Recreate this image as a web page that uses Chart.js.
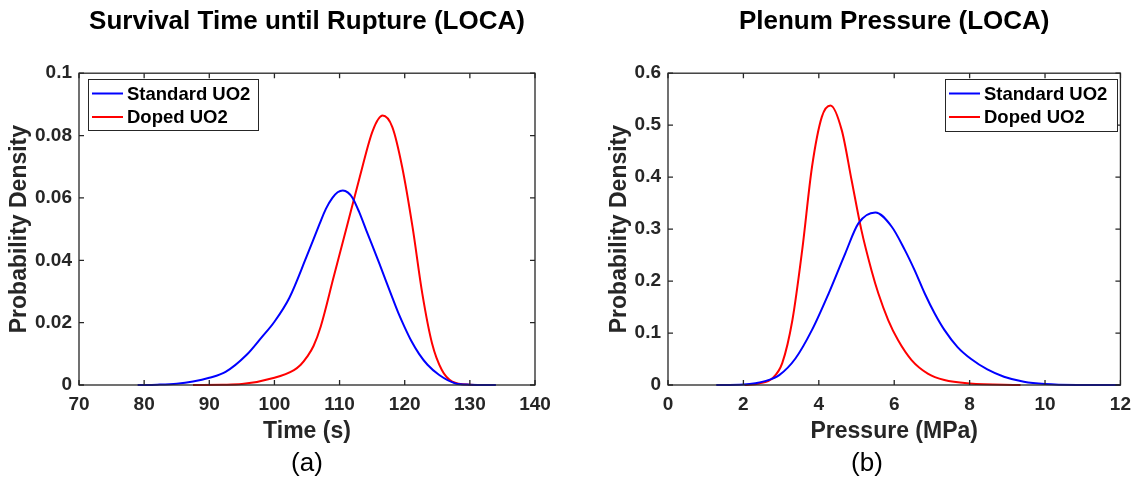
<!DOCTYPE html>
<html>
<head>
<meta charset="utf-8">
<script src="https://cdn.jsdelivr.net/npm/chart.js@4.4.0/dist/chart.umd.min.js"></script>
<style>
body{margin:0;background:#fff;width:1139px;height:482px;overflow:hidden;position:relative;font-family:"Liberation Sans",Arial,sans-serif}
canvas{position:absolute;top:0}
.cap{position:absolute;top:447px;font-size:26px;color:#000;transform:translateX(-50%)}
</style>
</head>
<body>
<canvas id="timeChart" width="570" height="482" style="left:0"></canvas>
<canvas id="pressureChart" width="569" height="482" style="left:570px"></canvas>
<div class="cap" style="left:307px">(a)</div>
<div class="cap" style="left:867px">(b)</div>
<script>
const seriesNames = ['Standard UO2', 'Doped UO2']

// (a) survival time until rupture, s
const timeStdX = [79, 82, 85, 87.5, 90, 92.5, 95.7, 98, 100, 102.3, 104.9, 106.9, 107.9, 108.9, 109.7, 110.5, 111.3, 112.0, 113.0, 114.1, 116.1, 118.1, 119, 120, 121, 122.2, 123.5, 125.3, 127.8, 130, 134]
const timeStdY = [0, 0.0001, 0.0004, 0.0011, 0.0023, 0.0042, 0.0096, 0.0152, 0.0203, 0.028, 0.041, 0.0515, 0.0565, 0.060, 0.0618, 0.0624, 0.0617, 0.060, 0.0555, 0.0496, 0.039, 0.028, 0.0232, 0.0185, 0.0142, 0.010, 0.0065, 0.0032, 0.0005, 0.0001, 0]
const timeDopX = [87.5, 92, 95, 100, 103, 104, 105, 106, 107.1, 109.1, 111.1, 113.1, 115.1, 116.6, 118.1, 119.6, 121.2, 122.7, 124.2, 125.7, 127.3, 130, 132.5]
const timeDopY = [0, 0.0001, 0.0003, 0.0023, 0.0048, 0.0064, 0.009, 0.0125, 0.0187, 0.0347, 0.0507, 0.0667, 0.0816, 0.0864, 0.0827, 0.070, 0.0507, 0.0293, 0.0133, 0.0048, 0.0011, 0.0001, 0]
const timeTicksX = [70, 80, 90, 100, 110, 120, 130, 140]
const timeTicksY = [0, 0.02, 0.04, 0.06, 0.08, 0.1]
const timeTickLabelsY = ['0', '0.02', '0.04', '0.06', '0.08', '0.1']

// (b) plenum pressure, MPa
const presStdX = [1.28, 2.0, 2.6, 2.95, 3.38, 3.82, 4.26, 4.70, 5.05, 5.5, 5.93, 6.28, 6.54, 6.81, 7.07, 7.33, 7.68, 8.04, 8.47, 8.91, 9.44, 10, 10.84, 12]
const presStdY = [0, 0.001, 0.008, 0.019, 0.051, 0.106, 0.176, 0.253, 0.311, 0.332, 0.305, 0.26, 0.221, 0.176, 0.138, 0.106, 0.073, 0.05, 0.030, 0.016, 0.0064, 0.002, 0.0002, 0]
const presDopX = [2.03, 2.42, 2.77, 3.03, 3.30, 3.56, 3.82, 4.08, 4.31, 4.61, 4.87, 5.13, 5.40, 5.58, 5.84, 6.10, 6.46, 6.89, 7.33, 8.0, 9.35]
const presDopY = [0, 0.003, 0.013, 0.042, 0.125, 0.26, 0.42, 0.516, 0.538, 0.49, 0.394, 0.298, 0.22, 0.176, 0.125, 0.0865, 0.048, 0.022, 0.0096, 0.003, 0]
const presTicksX = [0, 2, 4, 6, 8, 10, 12]
const presTicksY = [0, 0.1, 0.2, 0.3, 0.4, 0.5, 0.6]
const presTickLabelsY = ['0', '0.1', '0.2', '0.3', '0.4', '0.5', '0.6']

const FONT = '"Liberation Sans", Arial, Helvetica, sans-serif'
const AXIS = '#262626'

function toPoints(xs, ys){
    return xs.map((x, i) => ({x, y: ys[i]}))
}

// matlab style box with inward ticks on all four sides
const boxAxes = {
    id: 'boxAxes',
    afterDatasetsDraw(chart){
        const ctx = chart.ctx
        const {left, right, top, bottom} = chart.chartArea
        const xs = chart.scales.x, ys = chart.scales.y
        ctx.save()
        ctx.strokeStyle = AXIS
        ctx.lineWidth = 1.3
        ctx.strokeRect(left, top, right - left, bottom - top)
        ctx.beginPath()
        xs.ticks.forEach(t => {
            const px = xs.getPixelForValue(t.value)
            ctx.moveTo(px, bottom); ctx.lineTo(px, bottom - 5)
            ctx.moveTo(px, top); ctx.lineTo(px, top + 5)
        })
        ys.ticks.forEach(t => {
            const py = ys.getPixelForValue(t.value)
            ctx.moveTo(left, py); ctx.lineTo(left + 5, py)
            ctx.moveTo(right, py); ctx.lineTo(right - 5, py)
        })
        ctx.stroke()
        ctx.restore()
    }
}

const boxLegend = {
    id: 'boxLegend',
    afterDraw(chart, args, opts){
        const ctx = chart.ctx
        const {x, y, w, h} = opts
        ctx.save()
        ctx.fillStyle = '#fff'
        ctx.fillRect(x, y, w, h)
        ctx.strokeStyle = AXIS
        ctx.lineWidth = 1
        ctx.strokeRect(x + 0.5, y + 0.5, w, h)
        ctx.font = `bold 18.5px ${FONT}`
        ctx.textBaseline = 'middle'
        chart.data.datasets.forEach((ds, i) => {
            const ly = y + 14.5 + i * 23.5
            ctx.strokeStyle = ds.borderColor
            ctx.lineWidth = 2
            ctx.beginPath()
            ctx.moveTo(x + 4, ly); ctx.lineTo(x + 35, ly)
            ctx.stroke()
            ctx.fillStyle = '#000'
            ctx.fillText(ds.label, x + 39, ly + 1)
        })
        ctx.restore()
    }
}

function renderDensityChart(id, cfg){
    const ctx = document.getElementById(id).getContext('2d')
    const lineStyle = {borderWidth: 2, pointRadius: 0, showLine: true, cubicInterpolationMode: 'monotone', clip: false}

    return new Chart(ctx, {
        type: 'scatter',
        data: {
            datasets: [
                {label: seriesNames[0], data: toPoints(cfg.stdX, cfg.stdY), borderColor: '#0000ff', ...lineStyle},
                {label: seriesNames[1], data: toPoints(cfg.dopX, cfg.dopY), borderColor: '#ff0000', ...lineStyle}
            ]
        },
        options: {
            responsive: false,
            animation: false,
            devicePixelRatio: 1,
            layout: {padding: {top: 0, left: 0, right: cfg.rightPad, bottom: 32}},
            scales: {
                x: {
                    type: 'linear',
                    min: cfg.ticksX[0],
                    max: cfg.ticksX[cfg.ticksX.length - 1],
                    afterBuildTicks: s => { s.ticks = cfg.ticksX.map(v => ({value: v})) },
                    afterFit: s => { s.height = 65 },
                    grid: {display: false, drawTicks: false},
                    border: {display: false},
                    ticks: {
                        autoSkip: false, maxRotation: 0, padding: 8, color: AXIS,
                        font: {family: FONT, size: 19, weight: 'bold'},
                        callback: v => String(v)
                    },
                    title: {
                        display: true, text: cfg.xLabel, color: AXIS,
                        font: {family: FONT, size: 23, weight: 'bold'},
                        padding: {top: 0, bottom: 5}
                    }
                },
                y: {
                    min: cfg.ticksY[0],
                    max: cfg.ticksY[cfg.ticksY.length - 1],
                    afterBuildTicks: s => { s.ticks = cfg.ticksY.map(v => ({value: v})) },
                    afterFit: s => { s.width = cfg.yWidth },
                    grid: {display: false, drawTicks: false},
                    border: {display: false},
                    ticks: {
                        autoSkip: false, padding: 7, color: AXIS,
                        font: {family: FONT, size: 19, weight: 'bold'},
                        callback: (v, i) => cfg.tickLabelsY[i]
                    },
                    title: {
                        display: true, text: 'Probability Density', color: AXIS,
                        font: {family: FONT, size: 23, weight: 'bold'},
                        padding: {top: cfg.yTitlePad, bottom: 0}
                    }
                }
            },
            plugins: {
                legend: {display: false},
                tooltip: {enabled: false},
                title: {
                    display: true, text: cfg.title, color: '#000', fullSize: false,
                    font: {family: FONT, size: 26, weight: 'bold'},
                    padding: {top: 6, bottom: 36}
                },
                boxLegend: cfg.legend
            }
        },
        plugins: [boxAxes, boxLegend]
    })
}

document.addEventListener('DOMContentLoaded', () => {
    renderDensityChart('timeChart', {
        title: 'Survival Time until Rupture (LOCA)',
        xLabel: 'Time (s)',
        stdX: timeStdX, stdY: timeStdY, dopX: timeDopX, dopY: timeDopY,
        ticksX: timeTicksX, ticksY: timeTicksY, tickLabelsY: timeTickLabelsY,
        yWidth: 79, rightPad: 35, yTitlePad: 6,
        legend: {x: 88, y: 79, w: 170, h: 51}
    })

    renderDensityChart('pressureChart', {
        title: 'Plenum Pressure (LOCA)',
        xLabel: 'Pressure (MPa)',
        stdX: presStdX, stdY: presStdY, dopX: presDopX, dopY: presDopY,
        ticksX: presTicksX, ticksY: presTicksY, tickLabelsY: presTickLabelsY,
        yWidth: 98, rightPad: 15, yTitlePad: 36,
        legend: {x: 375, y: 79, w: 172, h: 52}
    })
})
</script>
</body>
</html>
